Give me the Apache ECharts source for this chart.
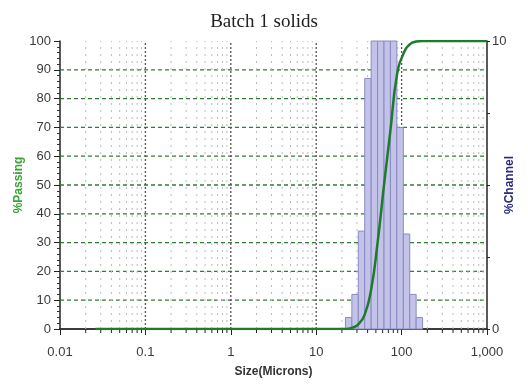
<!DOCTYPE html>
<html>
<head>
<meta charset="utf-8">
<script src="https://cdn.jsdelivr.net/npm/echarts@6/dist/echarts.min.js"></script>
<style>
  html, body { margin: 0; padding: 0; background: #fff; }
  #main { width: 528px; height: 387px; }
</style>
</head>
<body>
<div id="main"></div>
<script>
// channel edges (microns) and % channel per bin
const binEdges = [22.00, 26.16, 31.11, 37.00, 44.00, 52.33, 62.23, 74.00, 88.00, 104.7, 124.5, 148.0, 176.0];
const channelPct = [0.4, 1.2, 3.4, 8.7, 16.3, 20.0, 19.0, 21.0, 7.0, 3.3, 1.2, 0.4];

// cumulative % passing curve
const passSize = [0.026, 22.00, 26.16, 31.11, 37.00, 44.00, 52.33, 62.23, 74.00, 88.00, 104.7, 124.5, 148.0, 176.0, 1000];
const passPct  = [0, 0, 0.4, 1.6, 5.0, 13.7, 30.0, 50.0, 69.0, 88.0, 95.5, 98.8, 99.8, 100, 100];

// grid lines
const hGridLevels = [10, 20, 30, 40, 50, 60, 70, 80, 90];
const majorDecades = [0.1, 1, 10, 100];
const minorSizes = [];
[0.01, 0.1, 1, 10, 100].forEach(function (d) {
  for (let k = 2; k <= 9; k++) minorSizes.push(+(d * k).toPrecision(3));
});

const xMin = 0.01, xMax = 1000;

const barData = channelPct.map(function (v, i) { return [binEdges[i], binEdges[i + 1], v]; });
const curveData = passSize.map(function (s, i) { return [s, passPct[i]]; });

const chart = echarts.init(document.getElementById('main'));

const axisFont = { fontFamily: 'Liberation Sans', fontSize: 13, color: '#3a3a3a' };

chart.setOption({
  animation: false,
  title: {
    text: 'Batch 1 solids',
    left: 'center',
    top: 8,
    textStyle: { fontFamily: 'Liberation Serif', fontSize: 19, fontWeight: 'normal', color: '#222' }
  },
  grid: { left: 60, right: 41, top: 41, bottom: 58, outerBoundsMode: 'none', containLabel: false },
  xAxis: [
    {
      type: 'log',
      logBase: 10,
      min: xMin,
      max: xMax,
      name: 'Size(Microns)',
      nameLocation: 'middle',
      nameGap: 37,
      nameMoveOverlap: false,
      nameTextStyle: { fontFamily: 'Liberation Sans', fontSize: 12, fontWeight: 'bold', color: '#333' },
      axisLine: { lineStyle: { color: '#222', width: 1.5 } },
      axisTick: { length: 6, lineStyle: { color: '#222' } },
      axisLabel: Object.assign({
        margin: 17,
        formatter: function (v) {
          if (v >= 1000) return '1,000';
          return String(+v.toPrecision(3));
        }
      }, axisFont),
      splitLine: { show: false }
    },
    {
      type: 'log',
      logBase: 10,
      min: xMin,
      max: xMax,
      position: 'top',
      axisLine: { lineStyle: { color: '#333', width: 1.5 } },
      axisTick: { show: false },
      axisLabel: { show: false },
      splitLine: { show: false }
    }
  ],
  yAxis: [
    {
      type: 'value',
      min: 0,
      max: 100,
      interval: 10,
      name: '%Passing',
      nameLocation: 'middle',
      nameGap: 35,
      nameMoveOverlap: false,
      nameTextStyle: { fontFamily: 'Liberation Sans', fontSize: 12, fontWeight: 'bold', color: '#3aa43a' },
      axisLine: { show: true, lineStyle: { color: '#222', width: 1.5 } },
      axisTick: { show: true, length: 6, lineStyle: { color: '#222' } },
      minorTick: { show: true, splitNumber: 5, length: 3, lineStyle: { color: '#333' } },
      axisLabel: Object.assign({ margin: 9 }, axisFont),
      splitLine: { show: false }
    },
    {
      type: 'value',
      min: 0,
      max: 10,
      interval: 2.5,
      position: 'right',
      name: '%Channel',
      nameLocation: 'middle',
      nameRotate: 90,
      nameGap: 17,
      nameMoveOverlap: false,
      nameTextStyle: { fontFamily: 'Liberation Sans', fontSize: 12, fontWeight: 'bold', color: '#2a2a80' },
      axisLine: { show: true, lineStyle: { color: '#222', width: 1.5 } },
      axisTick: { show: true, length: 3, lineStyle: { color: '#222' } },
      axisLabel: Object.assign({
        margin: 5,
        formatter: function (v) { return (v === 0 || v === 10) ? String(v) : ''; }
      }, axisFont),
      splitLine: { show: false }
    }
  ],
  series: [
    {
      // horizontal dashed green grid
      type: 'custom',
      z: 1,
      silent: true,
      data: hGridLevels.map(function (l) { return [xMin, l]; }),
      renderItem: function (params, api) {
        const p0 = api.coord([xMin, api.value(1)]);
        const p1 = api.coord([xMax, api.value(1)]);
        return {
          type: 'line',
          shape: { x1: p0[0], y1: p0[1], x2: p1[0], y2: p1[1] },
          style: { stroke: '#2f7d33', lineWidth: 1.3, lineDash: [4, 3] }
        };
      }
    },
    {
      // major decade grid lines
      type: 'custom',
      z: 1,
      silent: true,
      data: majorDecades.map(function (d) { return [d, 0]; }),
      renderItem: function (params, api) {
        const p0 = api.coord([api.value(0), 0]);
        const p1 = api.coord([api.value(0), 100]);
        return {
          type: 'line',
          shape: { x1: p0[0], y1: p0[1], x2: p1[0], y2: p1[1] },
          style: { stroke: '#555', lineWidth: 1.3, lineDash: [2, 2] }
        };
      }
    },
    {
      // minor grid lines + minor ticks
      type: 'custom',
      z: 1,
      silent: true,
      data: minorSizes.map(function (d) { return [d, 0]; }),
      renderItem: function (params, api) {
        const p0 = api.coord([api.value(0), 0]);
        const p1 = api.coord([api.value(0), 100]);
        return {
          type: 'group',
          children: [
            {
              type: 'line',
              shape: { x1: p0[0], y1: p0[1], x2: p1[0], y2: p1[1] },
              style: { stroke: '#bbb', lineWidth: 1, lineDash: [2, 5] }
            },
            {
              type: 'line',
              shape: { x1: p0[0], y1: p0[1], x2: p0[0], y2: p0[1] + 4 },
              style: { stroke: '#222', lineWidth: 1 }
            }
          ]
        };
      }
    },
    {
      // % channel histogram
      type: 'custom',
      name: '%Channel',
      z: 2,
      xAxisIndex: 0,
      yAxisIndex: 1,
      encode: { x: [0, 1], y: 2 },
      data: barData,
      renderItem: function (params, api) {
        const a = api.coord([api.value(0), api.value(2)]);
        const b = api.coord([api.value(1), 0]);
        const cs = params.coordSys;
        const rect = echarts.graphic.clipRectByRect(
          { x: a[0], y: a[1], width: b[0] - a[0], height: b[1] - a[1] },
          { x: cs.x, y: cs.y, width: cs.width, height: cs.height }
        );
        return rect && {
          type: 'rect',
          shape: rect,
          style: { fill: '#c3c3ea', stroke: '#8a8ac2', lineWidth: 1 }
        };
      }
    },
    {
      // cumulative % passing
      type: 'line',
      name: '%Passing',
      z: 4,
      xAxisIndex: 0,
      yAxisIndex: 0,
      data: curveData,
      showSymbol: false,
      smooth: 0.5,
      lineStyle: { color: '#1f7a2c', width: 2.5 }
    }
  ]
});
</script>
</body>
</html>
